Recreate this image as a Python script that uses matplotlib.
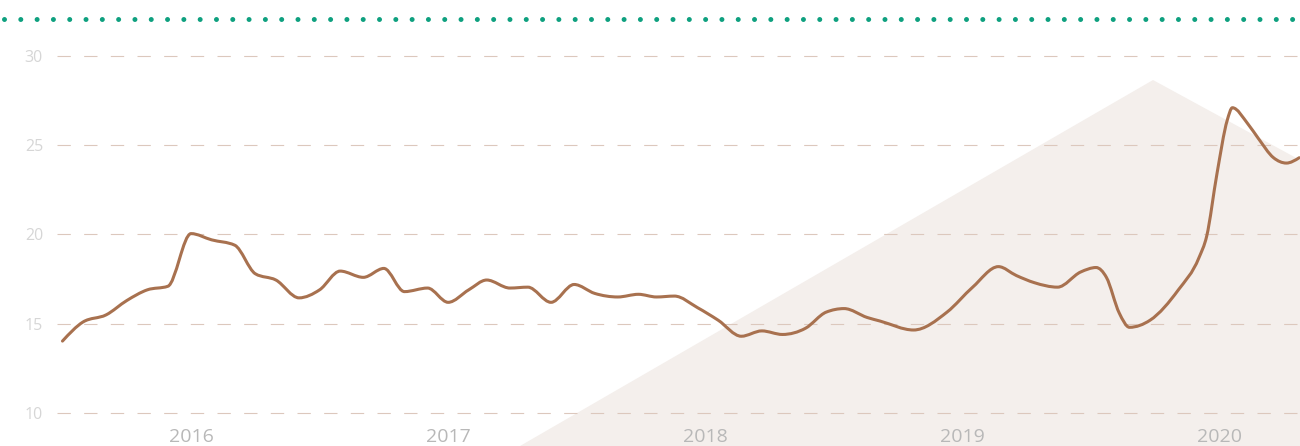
import numpy as np
import matplotlib
matplotlib.use("Agg")
import matplotlib.pyplot as plt
from matplotlib.path import Path
from matplotlib.patches import PathPatch, Polygon
from matplotlib.lines import Line2D

# Series (time as decimal year, value)
years = [2015.50, 2015.58, 2015.67, 2015.75, 2015.83, 2015.91,
         2016.00, 2016.08, 2016.17, 2016.25, 2016.33, 2016.42,
         2016.50, 2016.58, 2016.67, 2016.75, 2016.83, 2016.92,
         2017.00, 2017.08, 2017.15, 2017.24, 2017.31, 2017.40,
         2017.49, 2017.57, 2017.66, 2017.74, 2017.81, 2017.88,
         2017.97, 2018.05, 2018.14, 2018.22, 2018.30, 2018.39,
         2018.47, 2018.54, 2018.63, 2018.68, 2018.81, 2018.94,
         2019.04, 2019.14, 2019.21, 2019.28, 2019.37, 2019.46,
         2019.52, 2019.56, 2019.61, 2019.65, 2019.73, 2019.84,
         2019.92, 2019.95, 2019.99, 2020.03, 2020.05, 2020.11,
         2020.15, 2020.21, 2020.26, 2020.31]
values = [14.03, 15.1, 15.5, 16.3, 16.9, 17.1,
          20.05, 19.7, 19.4, 17.8, 17.45, 16.45,
          16.9, 17.95, 17.6, 18.1, 16.8, 17.0,
          16.2, 16.9, 17.45, 17.0, 17.05, 16.2,
          17.2, 16.7, 16.5, 16.65, 16.5, 16.55,
          15.9, 15.2, 14.3, 14.6, 14.4, 14.75,
          15.65, 15.85, 15.35, 15.15, 14.65, 15.65,
          17.05, 18.2, 17.7, 17.3, 17.05, 17.9,
          18.15, 17.6, 15.6, 14.8, 15.2, 16.9,
          18.7, 19.9, 23.4, 26.4, 27.1, 26.2,
          25.4, 24.3, 24.0, 24.3]

y_ticks = [10, 15, 20, 25, 30]
x_ticks = [2016, 2017, 2018, 2019, 2020]
x_labels = ["2016", "2017", "2018", "2019", "2020"]

line_color = "#a8714f"
grid_color = "#dcc8bd"
bg_shape = "#f4efec"
dot_color = "#0ea07f"

plt.rcParams['font.family'] = ['Open Sans', 'DejaVu Sans']


# Monotone cubic tangents (like d3 curveMonotoneX)
def monotone_tangents(x, y):
    n = len(x)
    h = np.diff(x)
    s = np.diff(y) / h
    t = np.zeros(n)
    for i in range(1, n - 1):
        p = (s[i - 1] * h[i] + s[i] * h[i - 1]) / (h[i - 1] + h[i])
        t[i] = (np.sign(s[i - 1]) + np.sign(s[i])) * min(abs(s[i - 1]), abs(s[i]), 0.5 * abs(p))
    t[0] = (3 * s[0] - t[1]) / 2
    t[-1] = (3 * s[-1] - t[-2]) / 2
    return t


def smooth_path(x, y):
    x = np.asarray(x, float)
    y = np.asarray(y, float)
    t = monotone_tangents(x, y)
    verts = [(x[0], y[0])]
    codes = [Path.MOVETO]
    for i in range(len(x) - 1):
        dx = (x[i + 1] - x[i]) / 3
        verts += [(x[i] + dx, y[i] + dx * t[i]),
                  (x[i + 1] - dx, y[i + 1] - dx * t[i + 1]),
                  (x[i + 1], y[i + 1])]
        codes += [Path.CURVE4] * 3
    return Path(verts, codes)


fig = plt.figure(figsize=(13, 4.46), dpi=100)
ax = fig.add_axes([0, 0, 1, 1])
ax.set_xlim(2015.257, 2020.313)
ax.set_ylim(8.153, 33.134)
for sp in ax.spines.values():
    sp.set_visible(False)

# decorative background triangle
ax.add_patch(Polygon([(520 / 1300, 0), (1153 / 1300, 1 - 80 / 446),
                      (1, 1 - 160 / 446), (1, 0)],
                     closed=True, transform=ax.transAxes,
                     facecolor=bg_shape, edgecolor='none', zorder=0))

# dashed gridlines
ax.hlines(y_ticks, 2015.479, 2020.313, colors=grid_color, linewidth=0.8,
          linestyles=(0, (12, 12)), zorder=1)

# the series
ax.add_patch(PathPatch(smooth_path(years, values), fill=False,
                       edgecolor=line_color, linewidth=2.2, zorder=3,
                       capstyle='round', joinstyle='round'))

ax.set_yticks(y_ticks)
ax.set_yticklabels([str(v) for v in y_ticks])
ax.tick_params(axis='y', length=0, pad=-31, labelsize=11.5, labelcolor='#d6d6d6')
ax.set_xticks(x_ticks)
ax.set_xticklabels(x_labels)
ax.tick_params(axis='x', length=0, pad=-13, labelsize=14, labelcolor='#b8b8b8')

# dotted green rule at top
fig.add_artist(Line2D([4 / 1300, 1], [1 - 19 / 446, 1 - 19 / 446],
                      transform=fig.transFigure, color=dot_color,
                      linewidth=3.6, linestyle=(0, (0.001, 3.26)),
                      dash_capstyle='round'))

fig.savefig("out.png", dpi=100)
